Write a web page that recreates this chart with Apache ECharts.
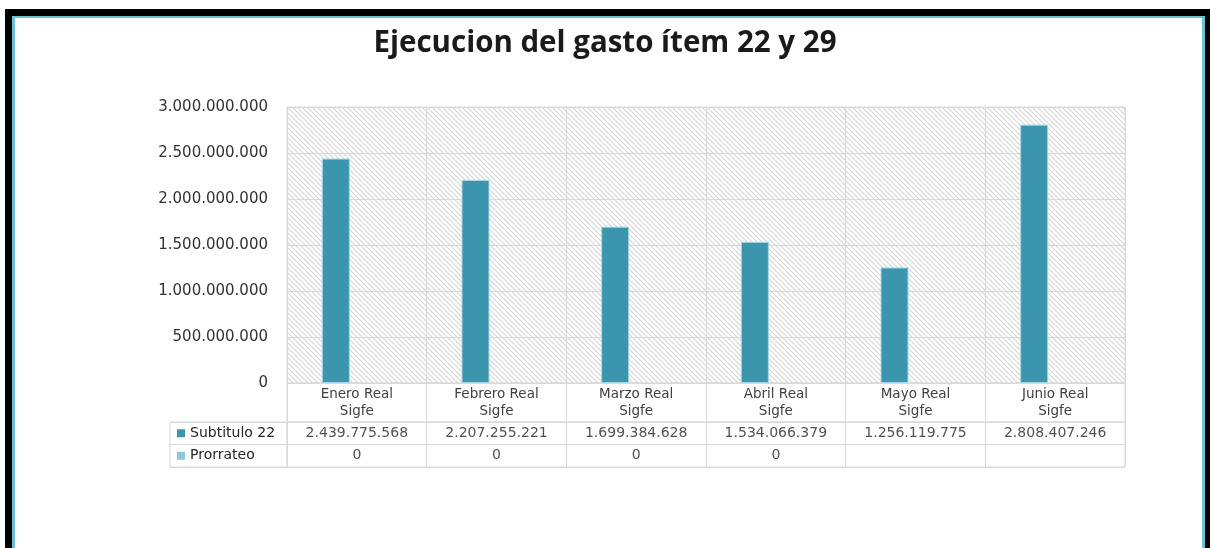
<!DOCTYPE html>
<html>
<head>
<meta charset="utf-8">
<script src="https://cdn.jsdelivr.net/npm/echarts@6/dist/echarts.min.js"></script>
<style>
  html, body { margin: 0; padding: 0; background: #fff; }
  #frameBlack { position: absolute; left: 5px; top: 9px; width: 1205px; height: 560px; background: #000; }
  #frameBlue { position: absolute; left: 12px; top: 16px; width: 1193px; height: 560px; background: #6cc0d6; }
  #frameWhite { position: absolute; left: 15px; top: 18px; width: 1187px; height: 560px; background: #fff; }
  #wrap { position: absolute; left: 0; top: 0; width: 1210px; height: 548px; overflow: hidden; }
  #chart { position: absolute; left: 0; top: 0; width: 1210px; height: 548px; }
</style>
</head>
<body>
<div id="wrap">
  <div id="frameBlack"></div>
  <div id="frameBlue"></div>
  <div id="frameWhite"></div>
  <div id="chart"></div>
</div>
<script>
// ---- data ----
const titleText = 'Ejecucion del gasto ítem 22 y 29';
const categories = ['Enero Real\nSigfe', 'Febrero Real\nSigfe', 'Marzo Real\nSigfe', 'Abril Real\nSigfe', 'Mayo Real\nSigfe', 'Junio Real\nSigfe'];
const seriesNames = ['Subtitulo 22', 'Prorrateo'];
const subtitulo22 = [2439775568, 2207255221, 1699384628, 1534066379, 1256119775, 2808407246];
const prorrateo = [0, 0, 0, 0, null, null];
const yMin = 0, yMax = 3000000000, yStep = 500000000;

// ---- helpers ----
function fmt(v) {
  return String(Math.round(v)).replace(/\B(?=(\d{3})+(?!\d))/g, '.');
}
function hatch() {
  const c = document.createElement('canvas');
  const s = 5;
  c.width = s; c.height = s;
  const g = c.getContext('2d');
  g.fillStyle = '#ffffff';
  g.fillRect(0, 0, s, s);
  g.strokeStyle = '#d6d6d6';
  g.lineWidth = 1.1;
  g.beginPath();
  g.moveTo(-1, -1); g.lineTo(s + 1, s + 1);
  g.moveTo(-1, s - 1); g.lineTo(1, s + 1);
  g.moveTo(s - 1, -1); g.lineTo(s + 1, 1);
  g.stroke();
  return c;
}

const colors = ['#3b96ad', '#93c6d8'];
const gridLine = '#d9d9d9';
const baseFont = 'DejaVu Sans';

const tableData = [];
subtitulo22.forEach((v, i) => { if (v !== null) tableData.push([i, seriesNames[0], v]); });
prorrateo.forEach((v, i) => { if (v !== null) tableData.push([i, seriesNames[1], v]); });

const rich = { t: { fontFamily: baseFont, fontSize: 14, color: '#262626', padding: [0, 0, 0, 5] } };
seriesNames.forEach((n, i) => { rich['s' + i] = { width: 8, height: 8, backgroundColor: colors[i] }; });

const chart = echarts.init(document.getElementById('chart'), null, { renderer: 'canvas' });
chart.setOption({
  animation: false,
  backgroundColor: 'transparent',
  title: {
    text: titleText,
    left: 'center',
    top: 24,
    textStyle: { fontFamily: 'Open Sans', fontWeight: 'bold', fontSize: 29.5, color: '#1a1a1a' }
  },
  grid: [
    { left: 287, top: 107, width: 838, height: 276, show: true, borderColor: gridLine, borderWidth: 1,
      backgroundColor: { image: hatch(), repeat: 'repeat' } },
    { left: 287, top: 383, width: 838, height: 39, show: true, borderColor: gridLine, borderWidth: 1, backgroundColor: 'transparent' },
    { left: 287, top: 422, width: 838, height: 45, show: true, borderColor: gridLine, borderWidth: 1, backgroundColor: 'transparent' },
    { left: 170, top: 422, width: 117, height: 45, show: true, borderColor: gridLine, borderWidth: 1, backgroundColor: 'transparent' }
  ],
  xAxis: [
    { gridIndex: 0, type: 'category', data: categories,
      axisLine: { show: false }, axisTick: { show: false },
      splitLine: { show: true, lineStyle: { color: gridLine } },
      axisLabel: { interval: 0, margin: 3, fontFamily: baseFont, fontSize: 13.5, lineHeight: 17, color: '#404040' } },
    { gridIndex: 1, type: 'category', data: categories,
      axisLine: { show: false }, axisTick: { show: false }, axisLabel: { show: false },
      splitLine: { show: true, lineStyle: { color: gridLine } } },
    { gridIndex: 2, type: 'category', data: categories,
      axisLine: { show: false }, axisTick: { show: false }, axisLabel: { show: false },
      splitLine: { show: true, lineStyle: { color: gridLine } } },
    { gridIndex: 3, type: 'value', show: false }
  ],
  yAxis: [
    { gridIndex: 0, type: 'value', min: yMin, max: yMax, interval: yStep,
      axisLine: { show: false }, axisTick: { show: false },
      splitLine: { show: true, lineStyle: { color: gridLine } },
      axisLabel: { margin: 19, fontFamily: baseFont, fontSize: 15, color: '#333333', formatter: fmt } },
    { gridIndex: 1, type: 'value', show: false },
    { gridIndex: 2, type: 'category', data: seriesNames, inverse: true,
      axisLine: { show: false }, axisTick: { show: false }, axisLabel: { show: false },
      splitLine: { show: true, lineStyle: { color: gridLine } } },
    { gridIndex: 3, type: 'category', data: seriesNames, inverse: true,
      axisLine: { show: false }, axisTick: { show: false },
      splitLine: { show: true, lineStyle: { color: gridLine } },
      axisLabel: { inside: true, margin: 7, rich: rich,
        formatter: (v, i) => '{s' + i + '|}{t|' + v + '}' } }
  ],
  series: [
    { name: seriesNames[0], type: 'bar', xAxisIndex: 0, yAxisIndex: 0, data: subtitulo22,
      barWidth: 28, barGap: '50%',
      itemStyle: { color: colors[0], borderColor: '#a6d6e4', borderWidth: 1 } },
    { name: seriesNames[1], type: 'bar', xAxisIndex: 0, yAxisIndex: 0, data: prorrateo,
      barWidth: 28, barGap: '50%',
      itemStyle: { color: colors[1] } },
    { name: 'tabla', type: 'scatter', xAxisIndex: 2, yAxisIndex: 2, data: tableData,
      symbolSize: 0, silent: true,
      label: { show: true, position: 'inside', fontFamily: baseFont, fontSize: 14, color: '#262626',
        formatter: p => fmt(p.value[2]) } }
  ]
});
</script>
</body>
</html>
